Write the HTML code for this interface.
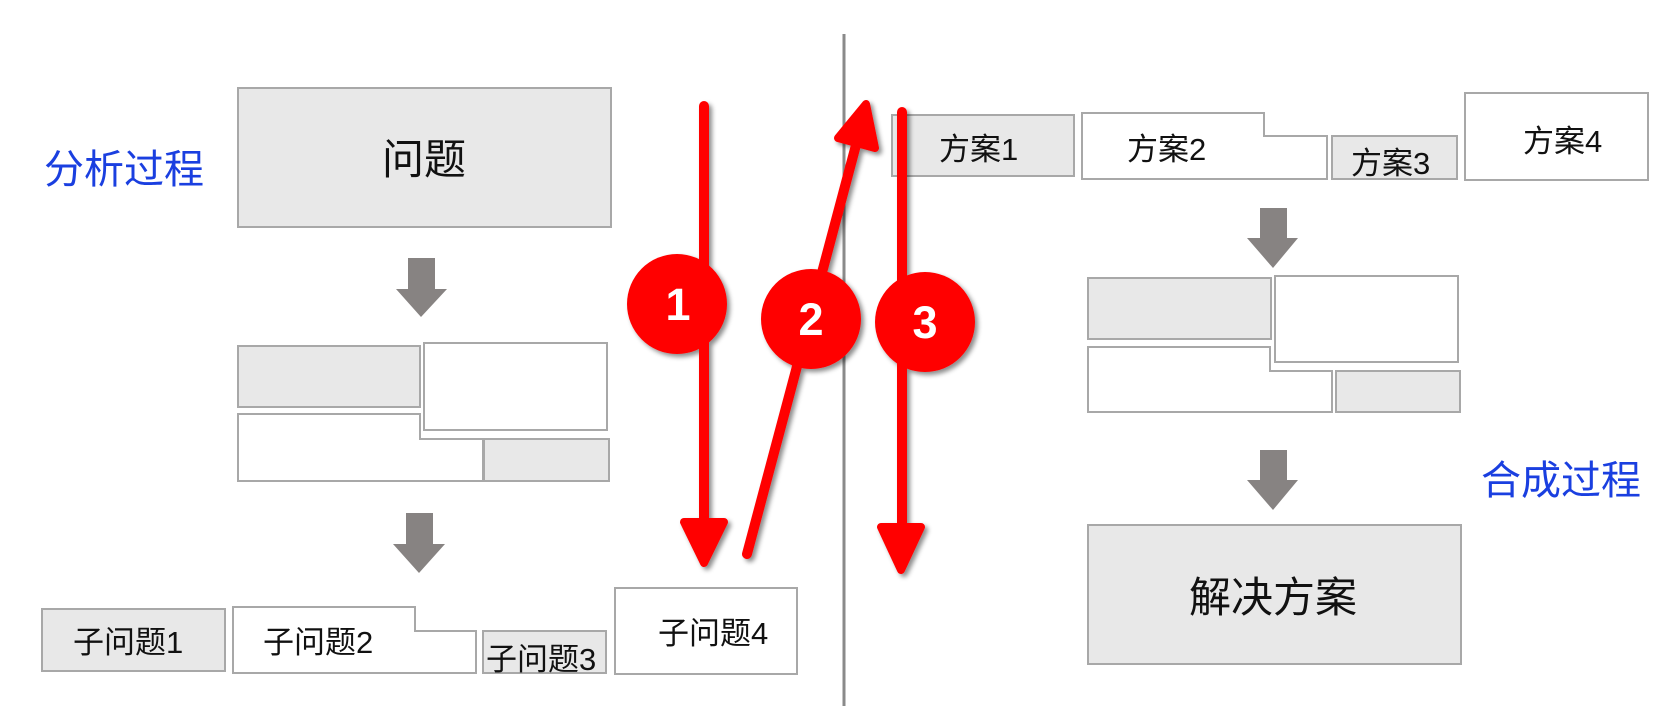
<!DOCTYPE html>
<html><head><meta charset="utf-8"><style>
html,body{margin:0;padding:0;background:#fff;}
svg{display:block;}
text{font-family:"Liberation Sans","Noto Sans CJK SC",sans-serif;}
</style></head><body>
<svg width="1678" height="706" viewBox="0 0 1678 706" xmlns="http://www.w3.org/2000/svg">
<defs>
<filter id="sh" x="-20%" y="-20%" width="140%" height="140%"><feDropShadow dx="3" dy="3" stdDeviation="2.5" flood-color="#000" flood-opacity="0.45"/></filter>
</defs>
<g stroke="#a8a8a8" stroke-width="2">
<rect x="238" y="88" width="373" height="139" fill="#e8e8e8"/>
<rect x="238" y="346" width="182" height="61" fill="#e8e8e8"/>
<rect x="424" y="343" width="183" height="87" fill="#fff"/>
<path d="M238 414 H420 V439 H483 V481 H238 Z" fill="#fff"/>
<rect x="484" y="439" width="125" height="42" fill="#e8e8e8"/>
<rect x="42" y="609" width="183" height="62" fill="#e8e8e8"/>
<path d="M233 607 H415 V631 H476 V673 H233 Z" fill="#fff"/>
<rect x="483" y="631" width="123" height="42" fill="#e8e8e8"/>
<rect x="615" y="588" width="182" height="86" fill="#fff"/>
<rect x="892" y="115" width="182" height="61" fill="#e8e8e8"/>
<path d="M1082 113 H1264 V136 H1327 V179 H1082 Z" fill="#fff"/>
<rect x="1332" y="136" width="125" height="43" fill="#e8e8e8"/>
<rect x="1465" y="93" width="183" height="87" fill="#fff"/>
<rect x="1088" y="278" width="183" height="61" fill="#e8e8e8"/>
<rect x="1275" y="276" width="183" height="86" fill="#fff"/>
<path d="M1088 347 H1270 V371 H1332 V412 H1088 Z" fill="#fff"/>
<rect x="1336" y="371" width="124" height="41" fill="#e8e8e8"/>
<rect x="1088" y="525" width="373" height="139" fill="#e8e8e8"/>
</g>
<g fill="#878382">
<path d="M408 258 H435 V289 H447 L421 317 L396 289 H408 Z"/>
<path d="M406 513 H433 V544 H445 L419 573 L393 544 H406 Z"/>
<path d="M1260 208 H1287 V238 H1298 L1273 268 L1247 238 H1260 Z"/>
<path d="M1260 450 H1287 V480 H1298 L1273 510 L1247 480 H1260 Z"/>
</g>
<line x1="844" y1="34" x2="844" y2="706" stroke="#8a8a8a" stroke-width="3"/>
<text x="44" y="183" font-size="40" fill="#1a3fe0">分析过程</text>
<text x="1481" y="494" font-size="40" fill="#1a3fe0">合成过程</text>
<g fill="#111">
<text x="424" y="174" font-size="42" text-anchor="middle">问题</text>
<text x="73" y="653" font-size="31">子问题1</text>
<text x="263" y="653" font-size="31">子问题2</text>
<text x="486" y="670" font-size="31">子问题3</text>
<text x="658" y="644" font-size="31">子问题4</text>
<text x="939" y="160" font-size="31">方案1</text>
<text x="1127" y="160" font-size="31">方案2</text>
<text x="1351" y="174" font-size="31">方案3</text>
<text x="1523" y="152" font-size="31">方案4</text>
<text x="1273" y="612" font-size="42" text-anchor="middle">解决方案</text>
</g>
<g filter="url(#sh)" fill="#ff0000" stroke="#ff0000" stroke-linecap="round" stroke-linejoin="round">
<line x1="704" y1="106" x2="704" y2="530" stroke-width="10"/>
<path d="M684 522 L724 522 L704 563 Z" stroke-width="8"/>
<line x1="747" y1="554" x2="860" y2="130" stroke-width="10"/>
<path d="M866 104 L838 138 L875 148 Z" stroke-width="8"/>
<line x1="902" y1="112" x2="902" y2="535" stroke-width="10"/>
<path d="M881 527 L921 527 L901 570 Z" stroke-width="8"/>
<circle cx="677" cy="304" r="50" stroke="none"/>
<circle cx="811" cy="319" r="50" stroke="none"/>
<circle cx="925" cy="322" r="50" stroke="none"/>
</g>
<g fill="#fff" font-size="45" font-weight="bold" text-anchor="middle">
<text x="678" y="320">1</text>
<text x="811" y="335">2</text>
<text x="925" y="338">3</text>
</g>
</svg>
</body></html>
